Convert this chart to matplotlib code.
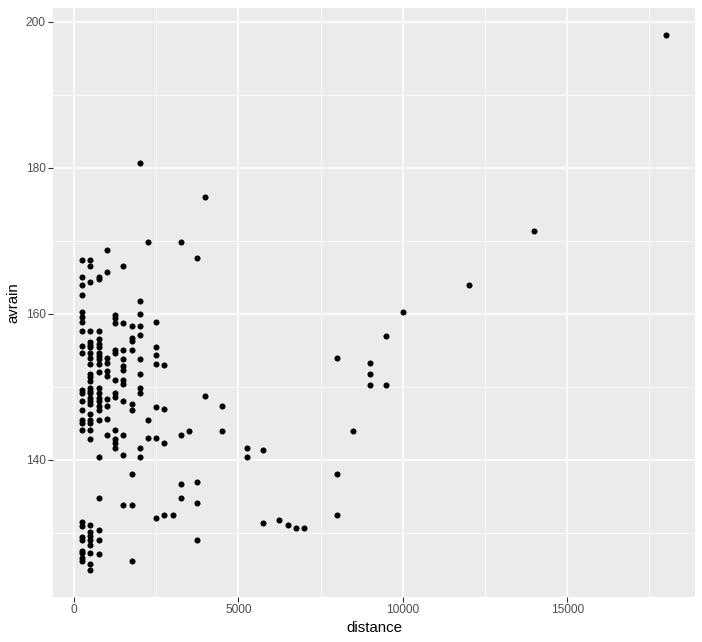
import matplotlib
matplotlib.use("Agg")
import matplotlib.pyplot as plt
import numpy as np

plt.rcParams['font.family'] = ['Liberation Sans', 'DejaVu Sans']

# distance value -> list of avrain values
col_250 = [167.3, 165.0, 164.0, 162.6, 160.3, 159.6, 158.9, 157.7, 155.6, 154.7,
           149.6, 149.2, 148.0, 146.9, 145.5, 145.0, 144.1,
           131.5, 131.0, 129.5, 129.0, 127.6, 127.2, 126.6, 126.1]
col_500 = [167.3, 166.6, 164.3, 157.7, 156.2, 155.7, 155.4, 154.7, 154.0, 153.1,
           151.8, 151.4, 150.8, 149.8, 149.5, 149.1, 148.5, 148.0, 147.6, 146.3,
           145.5, 145.0, 144.1, 142.8,
           131.1, 130.2, 129.6, 129.0, 128.4, 127.2, 125.8, 124.9]
col_750 = [165.0, 164.7, 157.7, 156.5, 155.9, 155.4, 154.7, 154.2, 153.8, 153.1,
           152.1, 149.8, 149.2, 148.5, 148.0, 147.4, 146.9, 145.4, 140.4, 134.8,
           130.4, 129.0, 127.1]
col_1000 = [168.7, 165.7, 154.0, 153.3, 152.2, 151.5, 148.4, 147.4, 145.6, 143.4]
col_1250 = [159.8, 159.4, 158.7, 155.1, 154.7, 151.0, 149.2, 148.6, 144.1, 142.8,
            142.3, 141.7]
col_1500 = [166.6, 158.7, 155.0, 153.8, 152.8, 152.3, 151.0, 150.4, 148.0, 143.4,
            140.7, 133.8]
col_1750 = [158.4, 156.7, 156.3, 155.0, 147.7, 146.8, 138.1, 133.8, 126.2]
col_2000 = [180.6, 161.7, 160.0, 158.4, 157.1, 153.8, 151.7, 149.8, 149.2, 141.7,
            140.4]
col_2250 = [169.9, 145.4, 143.0]
col_2500 = [158.9, 155.4, 154.4, 153.1, 147.3, 143.0, 132.1]
col_2750 = [153.0, 147.0, 142.3, 132.5]
col_3000 = [132.5]
col_3250 = [169.9, 143.4, 136.7, 134.8]
col_3500 = [144.0]
col_3750 = [167.6, 137.0, 134.1, 129.0]
col_4000 = [176.0, 148.7]
col_4500 = [147.4, 144.0]
col_5250 = [141.7, 140.4]
col_5750 = [141.4, 131.4]
col_6250 = [131.8]
col_6500 = [131.1]
col_6750 = [130.7]
col_7000 = [130.7]
col_8000 = [154.0, 138.1, 132.5]
col_8500 = [144.0]
col_9000 = [153.3, 151.7, 150.3]
col_9500 = [157.0, 150.3]
col_10000 = [160.3]
col_12000 = [164.0]
col_14000 = [171.3]
col_18000 = [198.2]

columns = {
    250: col_250, 500: col_500, 750: col_750, 1000: col_1000, 1250: col_1250,
    1500: col_1500, 1750: col_1750, 2000: col_2000, 2250: col_2250,
    2500: col_2500, 2750: col_2750, 3000: col_3000, 3250: col_3250,
    3500: col_3500, 3750: col_3750, 4000: col_4000, 4500: col_4500,
    5250: col_5250, 5750: col_5750, 6250: col_6250, 6500: col_6500,
    6750: col_6750, 7000: col_7000, 8000: col_8000, 8500: col_8500,
    9000: col_9000, 9500: col_9500, 10000: col_10000, 12000: col_12000,
    14000: col_14000, 18000: col_18000,
}

distance = []
avrain = []
for d, ys in columns.items():
    for yv in ys:
        distance.append(d)
        avrain.append(yv)
distance = np.array(distance, dtype=float)
avrain = np.array(avrain, dtype=float)

x_ticks = [0, 5000, 10000, 15000]
y_ticks = [140, 160, 180, 200]
x_minor = [2500, 7500, 12500, 17500]
y_minor = [130, 150, 170, 190]

W, H = 702, 642
fig = plt.figure(figsize=(W / 100, H / 100), dpi=100)
ax = fig.add_axes([53 / W, (H - 597) / H, (695 - 53) / W, (597 - 8) / H])
ax.set_facecolor('#EBEBEB')

def expand(lo, hi):
    r = hi - lo
    return lo - 0.05 * r, hi + 0.05 * r

ax.set_xlim(*expand(distance.min(), distance.max()))
ax.set_ylim(*expand(avrain.min(), avrain.max()))

for v in x_minor:
    ax.axvline(v, color='white', lw=0.55, zorder=0.5)
for v in y_minor:
    ax.axhline(v, color='white', lw=0.55, zorder=0.5)
for v in x_ticks:
    ax.axvline(v, color='white', lw=1.1, zorder=0.6)
for v in y_ticks:
    ax.axhline(v, color='white', lw=1.1, zorder=0.6)

ax.scatter(distance, avrain, s=19, color='black', linewidths=0, zorder=3)

ax.set_xticks(x_ticks)
ax.set_xticklabels([str(t) for t in x_ticks])
ax.set_yticks(y_ticks)
ax.set_yticklabels([str(t) for t in y_ticks])
ax.tick_params(axis='both', length=3.3, width=0.8, color='#333333',
               labelcolor='#4D4D4D', labelsize=8.6, pad=2)
for s in ax.spines.values():
    s.set_visible(False)

ax.set_xlabel('distance', fontsize=10.8, color='black', labelpad=3)
ax.set_ylabel('avrain', fontsize=10.8, color='black', labelpad=4)

fig.savefig('out.png', dpi=100, facecolor='white')
